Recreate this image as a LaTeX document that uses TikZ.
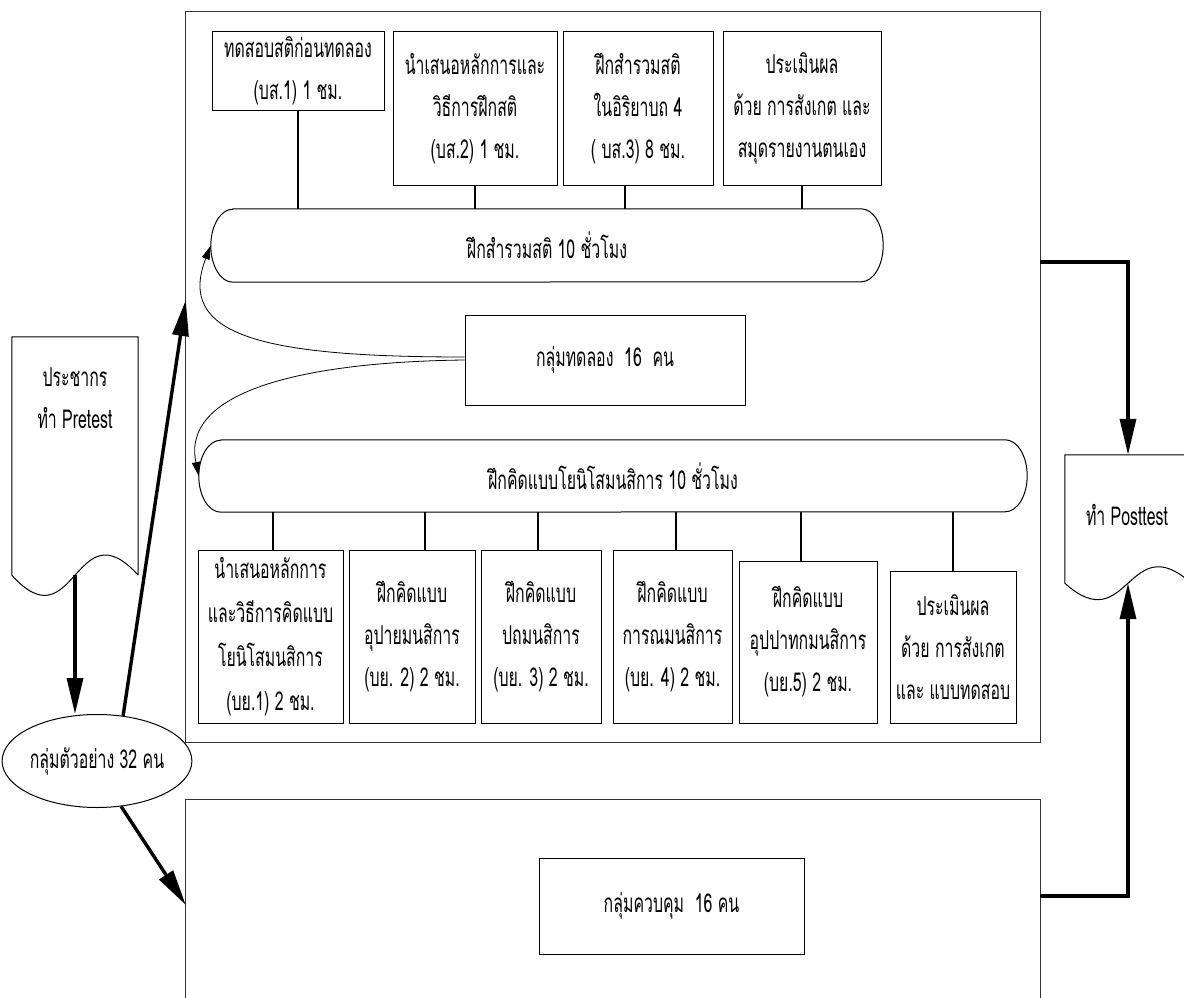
\documentclass[tikz,border=0pt]{standalone}
\usepackage{fontspec}
\newfontfamily\thaifont[Script=Thai,FakeStretch=0.61]{Loma}
\usetikzlibrary{arrows.meta,shapes.geometric,calc}
\begin{document}
\begin{tikzpicture}[x=1pt,y=-1pt,
  every node/.style={font=\thaifont\fontsize{26}{42}\selectfont},
  box/.style={draw, line width=1pt, inner sep=0pt, align=center},
  frame/.style={inner sep=0pt, draw=none},
  thinline/.style={line width=1pt},
  frameline/.style={line width=1.3pt, draw=black!80},
  link/.style={line width=1.4pt},
  bigarrow/.style={line width=3.4pt, -{Triangle[length=36pt,width=16pt]}},
  curvearrow/.style={line width=0.8pt, -{Triangle[length=14pt,width=8pt]}}
]
\useasboundingbox (0,0) rectangle (1184,998);
\clip (0,0) rectangle (1184,998);

% ---------- experimental group frame ----------
\node[frame, minimum width=854pt, minimum height=730pt] (expbox) at (613,377) {};
\draw[frameline] (expbox.north west) rectangle (expbox.south east);

% top row: mindfulness sessions
\node[box, minimum width=172pt, minimum height=78pt] (t1) at (298,71)
  {ทดสอบสติก่อนทดลอง\\(บส.1) 1 ชม.};
\node[box, minimum width=164pt, minimum height=153pt] (t2) at (475,108.5)
  {นำเสนอหลักการและ\\วิธีการฝึกสติ\\(บส.2) 1 ชม.};
\node[box, minimum width=150pt, minimum height=153pt] (t3) at (638,108.5)
  {ฝึกสำรวมสติ\\ในอิริยาบถ 4\\( บส.3) 8 ชม.};
\node[box, minimum width=158pt, minimum height=153pt] (t4) at (802,108.5)
  {ประเมินผล\\ด้วย การสังเกต และ\\สมุดรายงานตนเอง};

% bar 1
\node[frame, minimum width=672pt, minimum height=73pt] (bar1) at (547,245.5)
  {ฝึกสำรวมสติ 10 ชั่วโมง};
\draw[thinline] ([xshift=22pt]bar1.north west) -- ([xshift=-22pt]bar1.north east)
  arc[start angle=90,end angle=-90,x radius=22pt,y radius=36.5pt]
  -- ([xshift=22pt]bar1.south west)
  arc[start angle=270,end angle=90,x radius=22pt,y radius=36.5pt] -- cycle;

\draw[link] (t1.south) -- (t1.south |- bar1.north);
\draw[link] (t2.south) -- (t2.south |- bar1.north);
\draw[link] ([xshift=-13pt]t3.south) -- ([xshift=-13pt]t3.south |- bar1.north);
\draw[link] (t4.south) -- (t4.south |- bar1.north);

% experimental group
\node[box, minimum width=280pt, minimum height=90pt] (grp) at (605,360)
  {กลุ่มทดลอง\ \ 16\ \ คน};

% bar 2
\node[frame, minimum width=828pt, minimum height=72pt] (bar2) at (613,476)
  {ฝึกคิดแบบโยนิโสมนสิการ 10 ชั่วโมง};
\draw[thinline] ([xshift=22pt]bar2.north west) -- ([xshift=-22pt]bar2.north east)
  arc[start angle=90,end angle=-90,x radius=22pt,y radius=36pt]
  -- ([xshift=22pt]bar2.south west)
  arc[start angle=270,end angle=90,x radius=22pt,y radius=36pt] -- cycle;

\draw[curvearrow] ([yshift=3pt]grp.west) .. controls (260,357) and (176,335) .. (bar1.west);
\draw[curvearrow] (grp.west) .. controls (300,362) and (181,392) .. (bar2.west);

% bottom row: wise-reflection sessions
\node[box, minimum width=145pt, minimum height=173pt, font=\thaifont\fontsize{26}{44}\selectfont] (b1) at (270.5,636.5)
  {นำเสนอหลักการ\\และวิธีการคิดแบบ\\โยนิโสมนสิการ\\(บย.1) 2 ชม.};
\node[box, minimum width=126pt, minimum height=173pt] (b2) at (412,636.5)
  {ฝึกคิดแบบ\\อุปายมนสิการ\\(บย. 2) 2 ชม.};
\node[box, minimum width=120pt, minimum height=173pt] (b3) at (541,636.5)
  {ฝึกคิดแบบ\\ปถมนสิการ\\(บย. 3) 2 ชม.};
\node[box, minimum width=119pt, minimum height=173pt] (b4) at (672.5,636.5)
  {ฝึกคิดแบบ\\การณมนสิการ\\(บย. 4) 2 ชม.};
\node[box, minimum width=138pt, minimum height=162pt] (b5) at (808,642)
  {ฝึกคิดแบบ\\อุปปาทกมนสิการ\\(บย.5) 2 ชม.};
\node[box, minimum width=126pt, minimum height=152pt] (b6) at (953,647)
  {ประเมินผล\\ด้วย การสังเกต\\และ แบบทดสอบ};

\draw[link] ([xshift=2.5pt]b1.north) -- ([xshift=2.5pt]b1.north |- bar2.south);
\draw[link] ([xshift=13pt]b2.north) -- ([xshift=13pt]b2.north |- bar2.south);
\draw[link] ([xshift=-3pt]b3.north) -- ([xshift=-3pt]b3.north |- bar2.south);
\draw[link] ([xshift=3.5pt]b4.north) -- ([xshift=3.5pt]b4.north |- bar2.south);
\draw[link] ([xshift=-7pt]b5.north) -- ([xshift=-7pt]b5.north |- bar2.south);
\draw[link] (b6.north) -- (b6.north |- bar2.south);

% ---------- control group frame (open at the bottom) ----------
\node[frame, minimum width=854pt, minimum height=210pt] (ctrlbox) at (613,905) {};
\draw[frameline] (ctrlbox.south west) -- (ctrlbox.north west) -- (ctrlbox.north east) -- (ctrlbox.south east);
\node[box, minimum width=265pt, minimum height=96pt] (ctrl) at (671.5,906)
  {กลุ่มควบคุม\ \ 16 คน};

% ---------- population document (pretest) ----------
\node[frame, minimum width=126pt, minimum height=238pt] (pre) at (75,456) {};
\draw[thinline] (pre.south east) -- (pre.north east) -- (pre.north west) -- (pre.south west)
  .. controls ($(pre.south)+(0,70)$) and ($(pre.south)+(0,-70)$) .. (pre.south east);
\node[inner sep=0pt, align=center] (pretxt) at (75,398) {ประชากร\\ทำ Pretest};
\coordinate (preout) at (pre.south);

% ---------- sample ----------
\node[draw, ellipse, thinline, inner sep=0pt, minimum width=170pt, minimum height=93pt] (samp) at (97,761)
  {กลุ่มตัวอย่าง 32 คน};

% ---------- posttest document ----------
\node[frame, minimum width=126pt, minimum height=128pt] (post) at (1128,519) {};
\draw[thinline] (post.south east) -- (post.north east) -- (post.north west) -- (post.south west)
  .. controls ($(post.south)+(0,57)$) and ($(post.south)+(0,-57)$) .. (post.south east);
\node[inner sep=0pt] (posttxt) at (1127,515) {ทำ Posttest};
\coordinate (postin) at (post.south);

% ---------- flow arrows ----------
\draw[bigarrow] (preout) -- (preout |- samp.north);
\draw[bigarrow] (samp.60) -- ([yshift=77pt]expbox.west);
\draw[bigarrow] (samp.-62) -- (ctrlbox.west);
\draw[bigarrow] ([yshift=115pt]expbox.east) -| (post.north);
\draw[bigarrow] ([yshift=9pt]ctrlbox.east) -| (postin);
\end{tikzpicture}
\end{document}
